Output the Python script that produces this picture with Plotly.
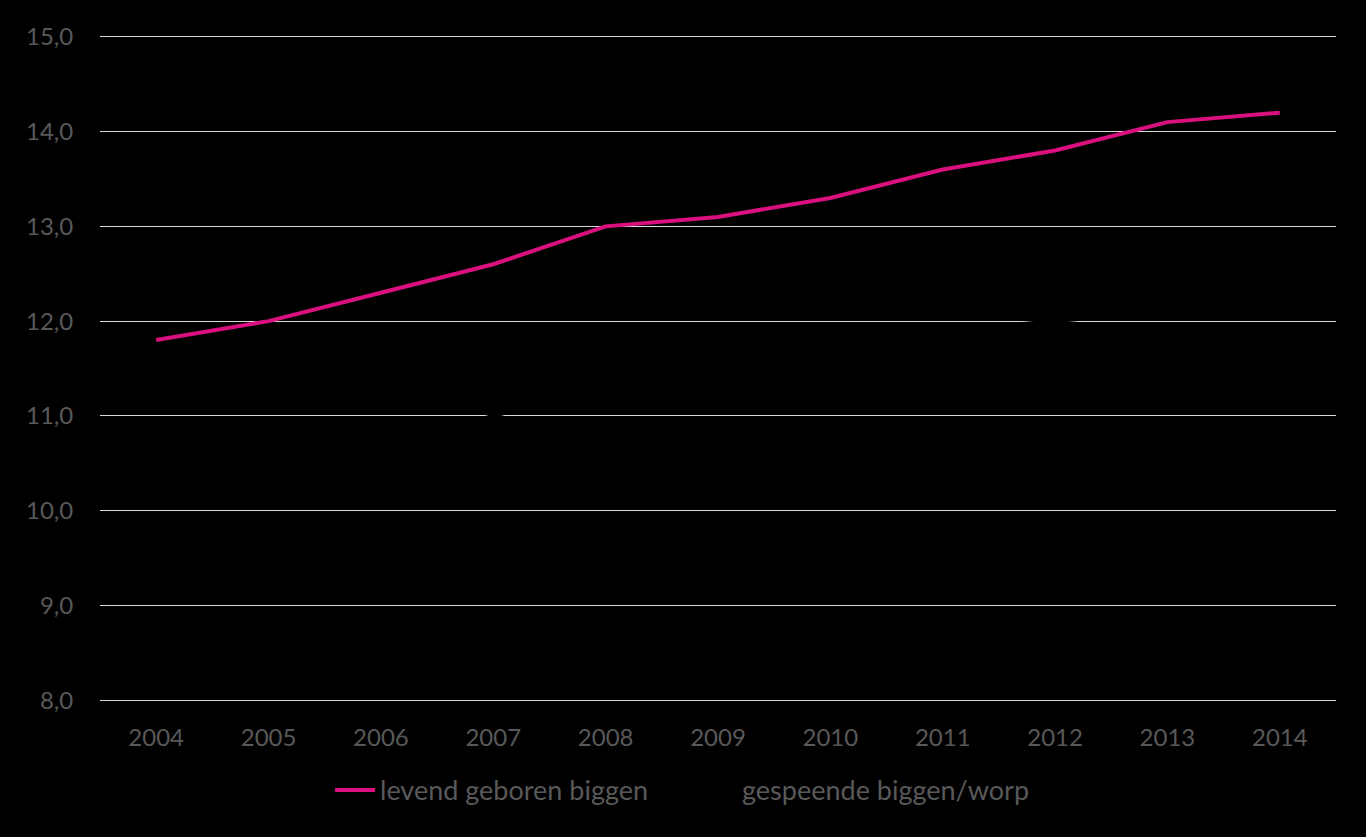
import plotly.graph_objects as go

years = ["2004", "2005", "2006", "2007", "2008", "2009", "2010", "2011", "2012", "2013", "2014"]
levend_geboren = [11.8, 12.0, 12.3, 12.6, 13.0, 13.1, 13.3, 13.6, 13.8, 14.1, 14.2]
gespeend = [10.3, 10.5, 10.7, 11.0, 11.3, 11.5, 11.7, 11.9, 12.0, 12.1, 12.3]
y_ticks = [8, 9, 10, 11, 12, 13, 14, 15]
y_labels = ["8,0", "9,0", "10,0", "11,0", "12,0", "13,0", "14,0", "15,0"]

fig = go.Figure()
fig.add_trace(go.Scatter(x=years, y=levend_geboren, mode="lines",
                         name="levend geboren biggen",
                         line=dict(color="#D9107E", width=4)))
fig.add_trace(go.Scatter(x=years, y=gespeend, mode="lines",
                         name="gespeende biggen/worp",
                         line=dict(color="#000000", width=4)))

font_color = "#595959"
fig.update_layout(
    width=1366, height=837,
    paper_bgcolor="#000000", plot_bgcolor="#000000",
    margin=dict(l=100, r=30, t=34, b=134),
    font=dict(family="Lato", size=24, color=font_color),
    showlegend=True,
    legend=dict(orientation="h", x=0.479, xanchor="center", y=-0.094, yanchor="top",
                font=dict(size=27, color=font_color), bgcolor="rgba(0,0,0,0)",
                itemwidth=40, entrywidth=307),
    xaxis=dict(type="category", range=[-0.5, 10.5], showgrid=False, zeroline=False,
               showline=False, ticks="outside", ticklen=13, tickcolor="#000000",
               tickfont=dict(size=24, color=font_color)),
    yaxis=dict(range=[7.97, 15.03], tickvals=y_ticks, ticktext=y_labels, showgrid=True,
               gridcolor="#D9D9D9", gridwidth=1, zeroline=False, showline=False,
               ticks="outside", ticklen=21, tickcolor="#000000",
               tickfont=dict(size=24, color=font_color)),
)

fig.write_html("out.html")
